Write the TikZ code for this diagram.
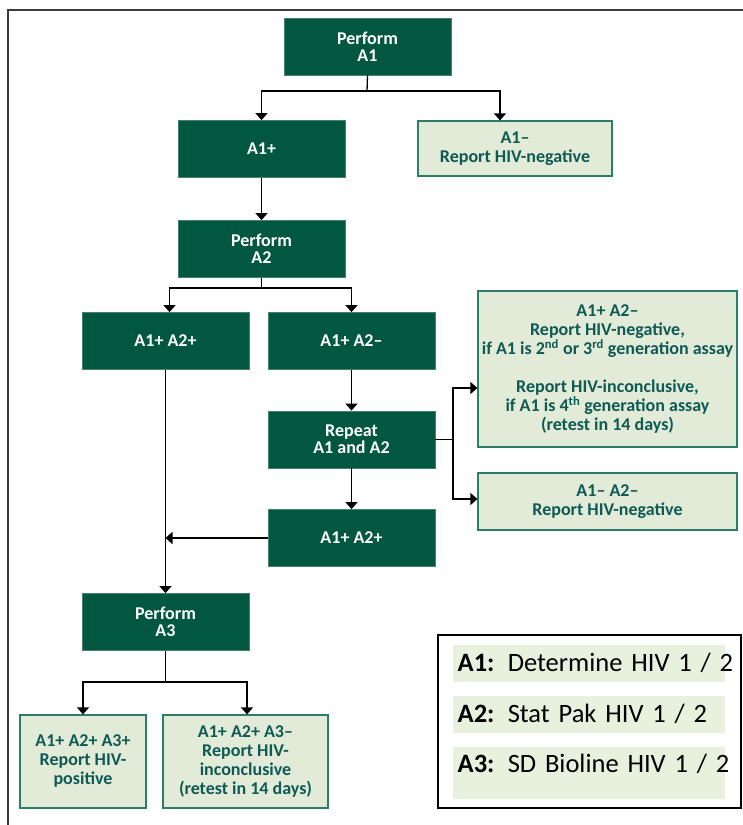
\documentclass[tikz,border=0pt]{standalone}
\usepackage{fontspec}
\setmainfont{Carlito}
\usetikzlibrary{arrows.meta}

\definecolor{boxgreen}{RGB}{2,87,64}
\definecolor{boxedge}{RGB}{70,130,110}
\definecolor{lightfill}{RGB}{226,234,216}
\definecolor{lightedge}{RGB}{46,125,105}
\definecolor{tealtext}{RGB}{14,90,84}
\definecolor{keyfill}{RGB}{232,240,222}
\definecolor{framegray}{RGB}{60,60,60}

\tikzset{
  darkbox/.style={fill=boxgreen, draw=boxedge, line width=0.8pt, text=white,
    font=\bfseries\fontsize{18}{17}\selectfont, align=center,
    minimum width=167pt, minimum height=57pt, inner sep=0pt},
  lightbox/.style={fill=lightfill, draw=lightedge, line width=1.2pt, text=tealtext,
    font=\bfseries\fontsize{18}{19}\selectfont, align=center, inner sep=0pt},
  keyrow/.style={fill=keyfill, anchor=north west, inner xsep=4.5pt, inner ysep=0pt,
    text width=263pt, align=left, font=\fontsize{26.5}{28}\selectfont},
  arr/.style={-{Triangle[width=12pt,length=7pt]}, line width=1.3pt},
  link/.style={line width=1.3pt}
}

\begin{document}
\begin{tikzpicture}[x=1pt, y=-1pt]
    \useasboundingbox (0,0) rectangle (743,825);
    % Frame
    \draw[framegray, line width=1.6pt] (8,825) -- (8,10) -- (743,10);

    % First test
    \node[darkbox] (pa1) at (367.5,46.5) {Perform\\A1};
    \node[darkbox] (a1p) at (261.5,149) {A1+};
    \node[lightbox, minimum width=194pt, minimum height=55pt] (a1n) at (515,148.5) {A1--\\Report HIV-negative};

    % Second test
    \node[darkbox] (pa2) at (261.5,249) {Perform\\A2};
    \node[darkbox] (a12pp) at (165.5,341) {A1+ A2+};
    \node[darkbox] (a12pn) at (351.5,341) {A1+ A2--};
    \node[darkbox] (rep) at (351.5,439.5) {Repeat\\A1 and A2};
    \node[darkbox] (a12pp2) at (351.5,538) {A1+ A2+};
    \node[lightbox, minimum width=259pt, minimum height=156pt] (big) at (607.5,369)
        {A1+ A2--\\Report HIV-negative,\\if A1 is 2\textsuperscript{nd} or 3\textsuperscript{rd} generation assay\\[19pt]
         Report HIV-inconclusive,\\if A1 is 4\textsuperscript{th} generation assay\\(retest in 14 days)};
    \node[lightbox, minimum width=259pt, minimum height=57pt] (a12nn) at (607.5,501.5) {A1-- A2--\\Report HIV-negative};

    % Third test
    \node[darkbox] (pa3) at (165.5,622) {Perform\\A3};
    \node[lightbox, minimum width=126pt, minimum height=93pt] (pos) at (83,761.5) {A1+ A2+ A3+\\Report HIV-\\positive};
    \node[lightbox, minimum width=165pt, minimum height=93pt] (inc) at (245.5,761.5) {A1+ A2+ A3--\\Report HIV-\\inconclusive\\(retest in 14 days)};

    % Connectors
    \coordinate (j1) at (367,91);
    \draw[link] (pa1.south) -- (j1);
    \draw[arr] (j1) -| (a1p.north);
    \draw[arr] (j1) -| ([xshift=-15pt]a1n.north);
    \draw[arr] (a1p) -- (pa2);
    \coordinate (j2) at (261.5,288);
    \draw[link] (pa2.south) -- (j2);
    \draw[arr] (j2) -| ([xshift=4pt]a12pp.north);
    \draw[arr] (j2) -| (a12pn.north);
    \draw[arr] (a12pn) -- (rep);
    \draw[arr] (rep) -- (a12pp2);
    \coordinate (j3) at (453,439.5);
    \draw[link] (rep.east) -- (j3);
    \draw[arr] (j3) |- ([yshift=-19pt]big.west);
    \draw[arr] (j3) |- ([yshift=2.5pt]a12nn.west);
    \draw[arr] (a12pp2.west) -- (a12pp2.west -| a12pp.south);
    \draw[arr] (a12pp.south) -- (pa3.north);
    \coordinate (j4) at (165.5,682);
    \draw[link] (pa3.south) -- (j4);
    \draw[arr] (j4) -| (pos.north);
    \draw[arr] (j4) -| ([xshift=1.5pt]inc.north);

    % Key
    \node[draw, line width=1.8pt, minimum width=303pt, minimum height=173pt, inner sep=0pt] (key) at (589.5,721.5) {};
    \node[keyrow, text height=26pt, text depth=11pt] (k1) at (453,645) {\mbox{\textbf{A1:} Determine HIV 1 / 2}};
    \node[keyrow, text height=26pt, text depth=11pt] (k2) at (453,696) {\mbox{\textbf{A2:} Stat Pak HIV 1 / 2}};
    \node[keyrow, text height=25pt, text depth=27pt] (k3) at (453,747) {\mbox{\textbf{A3:} SD Bioline HIV 1 / 2}};
\end{tikzpicture}
\end{document}
